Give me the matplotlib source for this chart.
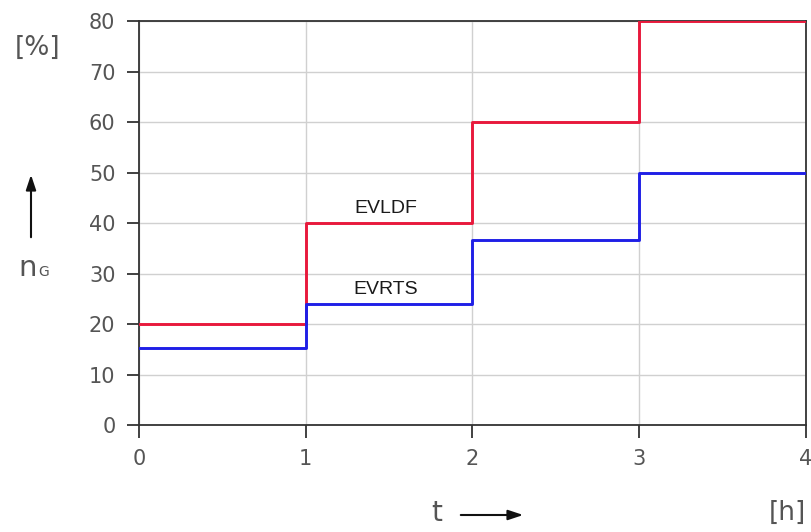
import matplotlib
matplotlib.use("Agg")
import matplotlib.pyplot as plt

# step data: value holds from t to t+1
t_edges = [0, 1, 2, 3, 4]
evldf = [20, 40, 60, 80, 80]
evrts = [15.3, 24, 36.6, 50, 50]

xticks = [0, 1, 2, 3, 4]
yticks = [0, 10, 20, 30, 40, 50, 60, 70, 80]

fig = plt.figure(figsize=(8.11, 5.32), dpi=100)
ax = fig.add_axes([0.1714, 0.2011, 0.8224, 0.7594])

ax.step(t_edges, evldf, where="post", color="#e8193c", lw=2.1, zorder=3)
ax.step(t_edges, evrts, where="post", color="#1f1fe6", lw=2.1, zorder=3)

ax.set_xlim(0, 4)
ax.set_ylim(0, 80)
ax.set_xticks(xticks)
ax.set_yticks(yticks)
ax.grid(True, color="#d0d0d0", lw=1.0)
ax.set_axisbelow(True)
for s in ax.spines.values():
    s.set_color("#333333")
    s.set_linewidth(1.3)
ax.tick_params(direction="out", length=9, width=1.3, color="#333333",
               labelsize=15, labelcolor="#555555", pad=8)

ax.text(1.48, 41.2, "EVLDF", ha="center", va="bottom", fontsize=14,
        family="Liberation Sans", color="#1a1a1a")
ax.text(1.48, 25.2, "EVRTS", ha="center", va="bottom", fontsize=14,
        family="Liberation Sans", color="#1a1a1a")

# axis labels in corner style
fig.text(38 / 811, 1 - 48 / 532, "[%]", ha="center", va="center",
         fontsize=19, color="#555555")
fig.text(28 / 811, 1 - 268 / 532, "n", ha="center", va="center",
         fontsize=21, color="#555555")
fig.text(44 / 811, 1 - 272 / 532, "G", ha="center", va="center",
         fontsize=10, color="#555555")
fig.add_artist(matplotlib.patches.FancyArrowPatch(
    (31 / 811, 1 - 240 / 532), (31 / 811, 1 - 172 / 532),
    transform=fig.transFigure, arrowstyle="-|>,head_length=9,head_width=3",
    color="#111111", lw=1.5))
fig.text(437 / 811, 1 - 513 / 532, "t", ha="center", va="center",
         fontsize=20, color="#555555")
fig.add_artist(matplotlib.patches.FancyArrowPatch(
    (458 / 811, 1 - 515 / 532), (526 / 811, 1 - 515 / 532),
    transform=fig.transFigure, arrowstyle="-|>,head_length=9,head_width=3",
    color="#111111", lw=1.5))
fig.text(787 / 811, 1 - 513 / 532, "[h]", ha="center", va="center",
         fontsize=19, color="#555555")

fig.savefig("out.png", dpi=100)
